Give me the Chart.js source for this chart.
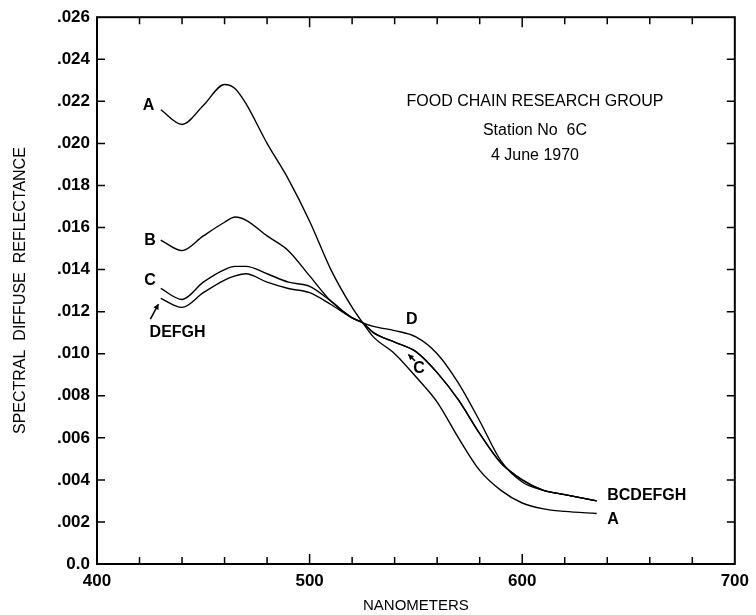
<!DOCTYPE html>
<html>
<head>
<meta charset="utf-8">
<script src="https://cdn.jsdelivr.net/npm/chart.js@4"></script>
<style>
  html, body { margin: 0; padding: 0; background: #fff; }
  #wrap { width: 756px; height: 615px; }
</style>
</head>
<body>
<div id="wrap"><canvas id="chart" width="756" height="615"></canvas></div>
<script>
//Wavelengths (nm)
const wavelengths = [430, 440, 450, 460, 465, 470, 480, 490, 500, 510, 520, 525, 530, 540, 550, 560, 570, 580, 590, 600, 610, 620, 635];

const seriesA = [.0216, .0209, .0218, .0228, .0226, .0219, .0200, .0183, .0163, .0140, .0122, .01147, .0108, .0100, .0089, .0077, .0060, .00445, .0035, .0029, .00262, .0025, .0024];
const seriesB = [.0154, .0149, .0156, .01625, .0165, .01635, .0156, .0149, .0137, .0125, .0117, .01147, .0110, .01055, .0101, .0091, .0078, .0062, .0048, .0040, .0035, .0033, .0030];
const seriesC = [.0131, .01258, .0134, .0140, .01415, .01415, .0138, .0134, .0132, .0125, .0117, .01147, .0110, .01055, .0101, .0091, .0078, .0062, .0048, .0040, .0035, .0033, .0030];
const seriesD = [.01263, .0122, .0129, .0135, .0137, .0138, .0134, .0131, .0129, .01234, .0117, .01147, .0113, .0111, .0108, .0100, .0086, .0068, .0049, .0039, .0035, .0033, .0030];

const xTickLabels = ['400', '500', '600', '700'];
const yTickLabels = ['0.0', '.002', '.004', '.006', '.008', '.010', '.012', '.014', '.016', '.018', '.020', '.022', '.024', '.026'];

//Minor tick positions on the frame
const xMinorTicks = [420, 440, 460, 480, 500, 520, 540, 560, 580, 600, 620, 640, 660, 680];
const yMinorTicks = [.002, .004, .006, .008, .010, .012, .014, .016, .018, .020, .022, .024];

//Curve labels (data coordinates)
const curveLabels = [
    { text: 'A', x: 424.2, y: .0218 },
    { text: 'B', x: 425, y: .0154 },
    { text: 'C', x: 425, y: .01348 },
    { text: 'DEFGH', x: 437.9, y: .0110 },
    { text: 'D', x: 548, y: .01163 },
    { text: 'C', x: 551.5, y: .0093 },
    { text: 'BCDEFGH', x: 640, y: .00327, align: 'left' },
    { text: 'A', x: 640, y: .0021, align: 'left' }
];
const arrows = [
    { from: [425.1, .01164], to: [428.9, .01236] },
    { from: [549.6, .00966], to: [546.4, .00996] }
];
const noteLines = ['FOOD CHAIN RESEARCH GROUP', 'Station No  6C', '4 June 1970'];
const noteX = 606;
const noteY = [.02197, .02063, .0194];

const FONT = "'Liberation Sans', Arial, sans-serif";

function toPoints(values) {
    return wavelengths.map((w, i) => ({ x: w, y: values[i] }));
}

function line(values) {
    return {
        data: toPoints(values),
        borderColor: '#000',
        borderWidth: 1.4,
        pointRadius: 0,
        fill: false,
        cubicInterpolationMode: 'monotone'
    };
}

const decor = {
    id: 'decor',
    afterDraw(chart) {
        const { ctx, chartArea: a, scales: { x, y } } = chart;
        ctx.save();
        ctx.strokeStyle = '#000';
        ctx.fillStyle = '#000';

        //Frame
        ctx.lineWidth = 2;
        ctx.strokeRect(a.left, a.top, a.right - a.left, a.bottom - a.top);

        //Inward ticks
        ctx.lineWidth = 1.5;
        ctx.beginPath();
        xMinorTicks.forEach(v => {
            const px = x.getPixelForValue(v);
            const len = v % 100 === 0 ? 10 : 7;
            ctx.moveTo(px, a.bottom);
            ctx.lineTo(px, a.bottom - len);
            ctx.moveTo(px, a.top);
            ctx.lineTo(px, a.top + len);
        });
        yMinorTicks.forEach(v => {
            const py = y.getPixelForValue(v);
            ctx.moveTo(a.left, py);
            ctx.lineTo(a.left + 8, py);
            ctx.moveTo(a.right, py);
            ctx.lineTo(a.right - 8, py);
        });
        ctx.stroke();

        //Curve labels
        ctx.font = 'bold 16px ' + FONT;
        ctx.textBaseline = 'middle';
        curveLabels.forEach(l => {
            ctx.textAlign = l.align || 'center';
            ctx.fillText(l.text, x.getPixelForValue(l.x), y.getPixelForValue(l.y));
        });

        //Arrows
        arrows.forEach(ar => {
            const x0 = x.getPixelForValue(ar.from[0]), y0 = y.getPixelForValue(ar.from[1]);
            const x1 = x.getPixelForValue(ar.to[0]), y1 = y.getPixelForValue(ar.to[1]);
            const ang = Math.atan2(y1 - y0, x1 - x0);
            ctx.lineWidth = 1.5;
            ctx.beginPath();
            ctx.moveTo(x0, y0);
            ctx.lineTo(x1, y1);
            ctx.stroke();
            ctx.beginPath();
            ctx.moveTo(x1, y1);
            ctx.lineTo(x1 - 6 * Math.cos(ang - 0.5), y1 - 6 * Math.sin(ang - 0.5));
            ctx.lineTo(x1 - 6 * Math.cos(ang + 0.5), y1 - 6 * Math.sin(ang + 0.5));
            ctx.closePath();
            ctx.fill();
        });

        //Station note
        ctx.font = '16px ' + FONT;
        ctx.textAlign = 'center';
        noteLines.forEach((t, i) => {
            ctx.fillText(t, x.getPixelForValue(noteX), y.getPixelForValue(noteY[i]));
        });
        ctx.restore();
    }
};

const ctx = document.getElementById('chart').getContext('2d');

new Chart(ctx, {
    type: 'line',
    data: {
        datasets: [line(seriesA), line(seriesB), line(seriesC), line(seriesD)]
    },
    options: {
        responsive: false,
        animation: false,
        layout: { padding: { left: 0, top: 15, right: 15, bottom: 0 } },
        plugins: {
            legend: { display: false },
            tooltip: { enabled: false }
        },
        scales: {
            x: {
                type: 'linear',
                min: 400,
                max: 700,
                border: { display: false },
                grid: { display: false, drawTicks: false },
                ticks: {
                    stepSize: 100,
                    padding: 7,
                    color: '#000',
                    font: { family: FONT, size: 17, weight: 'bold' },
                    maxRotation: 0,
                    callback: (v, i) => xTickLabels[i]
                },
                title: {
                    display: true,
                    text: 'NANOMETERS',
                    color: '#000',
                    font: { family: FONT, size: 15 },
                    padding: { top: 1, bottom: 0 }
                },
                afterFit: (s) => { s.height = 51; }
            },
            y: {
                min: 0,
                max: 0.026,
                border: { display: false },
                grid: { display: false, drawTicks: false },
                ticks: {
                    stepSize: 0.002,
                    padding: 7,
                    color: '#000',
                    font: { family: FONT, size: 17, weight: 'bold' },
                    callback: (v, i) => yTickLabels[i]
                },
                title: {
                    display: true,
                    text: 'SPECTRAL  DIFFUSE  REFLECTANCE',
                    color: '#000',
                    font: { family: FONT, size: 16 },
                    padding: { top: 11, bottom: 0 }
                },
                afterFit: (s) => { s.width = 97; }
            }
        }
    },
    plugins: [decor]
});
</script>
</body>
</html>
